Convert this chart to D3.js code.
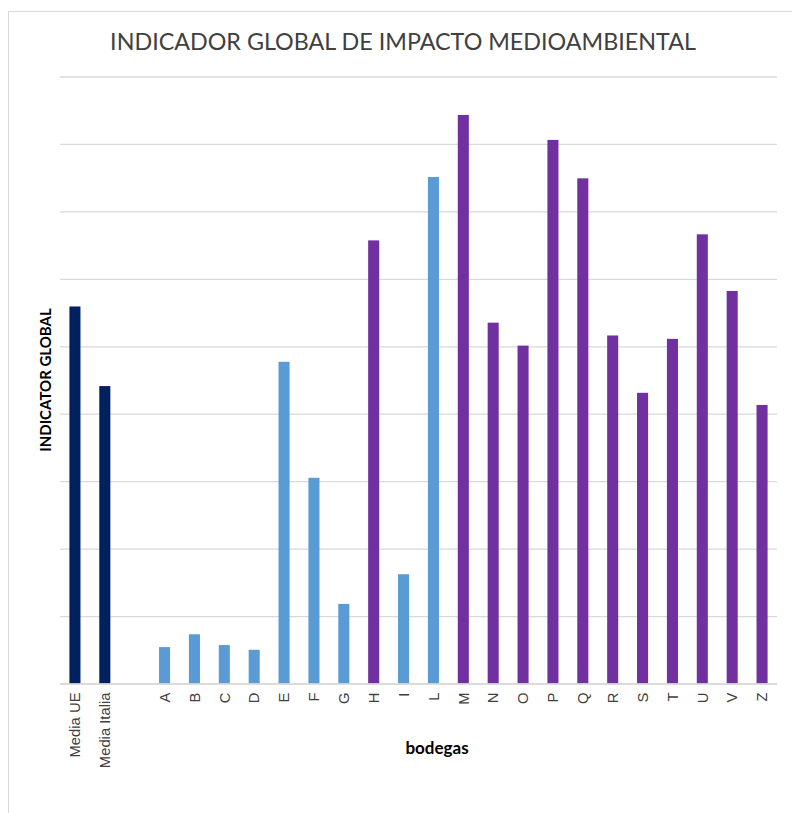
<!DOCTYPE html>
<html>
<head>
<meta charset="utf-8">
<script src="https://cdn.jsdelivr.net/npm/d3@7"></script>
<style>
  html, body { margin: 0; padding: 0; background: #fff; }
  svg { display: block; }
</style>
</head>
<body>
<div id="chart"></div>
<script>
// Categories along the x axis (one blank slot separates the averages from the wineries)
const categories = ["Media UE", "Media Italia", "", "A", "B", "C", "D", "E", "F", "G", "H", "I", "L",
                    "M", "N", "O", "P", "Q", "R", "S", "T", "U", "V", "Z"];
// Global indicator per category (blank slot has no value)
const values = [5.59, 4.41, null, 0.54, 0.73, 0.57, 0.50, 4.77, 3.05, 1.18, 6.57, 1.62, 7.51,
                8.43, 5.35, 5.01, 8.06, 7.49, 5.16, 4.31, 5.11, 6.66, 5.82, 4.13];
// Group of each bar: reference averages, wineries group 1, wineries group 2
const groups = ["media", "media", null, "g1", "g1", "g1", "g1", "g1", "g1", "g1", "g2", "g1", "g1",
                "g2", "g2", "g2", "g2", "g2", "g2", "g2", "g2", "g2", "g2", "g2"];
const yTicks = [0, 1, 2, 3, 4, 5, 6, 7, 8, 9];

const title = "INDICADOR GLOBAL DE IMPACTO MEDIOAMBIENTAL";
const yTitle = "INDICATOR GLOBAL";
const xTitle = "bodegas";

const W = 792, H = 813;
const margin = { left: 60, right: 15, top: 76.5, bottom: 129.5 };

const color = d3.scaleOrdinal()
  .domain(["media", "g1", "g2"])
  .range(["#002060", "#5B9BD5", "#7030A0"]);

const svg = d3.select("#chart").append("svg")
  .attr("width", W).attr("height", H);

// chart frame
svg.append("rect")
  .attr("x", 8.5).attr("y", 11.5)
  .attr("width", W + 10).attr("height", H + 10)
  .attr("fill", "none").attr("stroke", "#d9d9d9").attr("stroke-width", 1);

const x = d3.scaleBand()
  .domain(categories.map((c, i) => i))
  .range([margin.left, W - margin.right])
  .paddingInner(0.63).paddingOuter(0.315);

const y = d3.scaleLinear()
  .domain([0, 9])
  .range([H - margin.bottom, margin.top]);

// horizontal gridlines
const gy = svg.append("g")
  .attr("transform", `translate(${margin.left},0)`)
  .call(d3.axisLeft(y).tickValues(yTicks).tickSize(-(W - margin.right - margin.left)).tickFormat(""));
gy.select(".domain").remove();
gy.selectAll(".tick line").attr("stroke", "#d9d9d9").attr("stroke-width", 1.3);

// bars
const data = categories.map((c, i) => ({ i, c, v: values[i], g: groups[i] }))
  .filter(d => d.v != null);

svg.append("g").selectAll("rect")
  .data(data)
  .join("rect")
  .attr("x", d => x(d.i))
  .attr("width", x.bandwidth())
  .attr("y", d => y(d.v))
  .attr("height", d => y(0) - y(d.v))
  .attr("fill", d => color(d.g));

// category axis
const gx = svg.append("g")
  .attr("transform", `translate(0,${y(0)})`)
  .call(d3.axisBottom(x).tickSize(0).tickFormat(i => categories[i]));
gx.select(".domain").attr("stroke", "#d9d9d9").attr("stroke-width", 1.5);
gx.selectAll(".tick text")
  .attr("transform", "rotate(-90)")
  .attr("text-anchor", "end")
  .attr("x", -9)
  .attr("y", 0)
  .attr("dy", "0.35em")
  .attr("font-family", "'Liberation Sans', Arial, sans-serif")
  .attr("font-size", 14.8)
  .attr("fill", "#404040");

// titles
svg.append("text")
  .attr("x", 403).attr("y", 50)
  .attr("text-anchor", "middle")
  .attr("font-family", "Lato, sans-serif")
  .attr("font-size", 23.3)
  .attr("fill", "#404040")
  .text(title);

svg.append("text")
  .attr("transform", "translate(51,380) rotate(-90)")
  .attr("text-anchor", "middle")
  .attr("font-family", "Lato, sans-serif")
  .attr("font-weight", "bold")
  .attr("font-size", 15)
  .attr("fill", "#000")
  .text(yTitle);

svg.append("text")
  .attr("x", 437).attr("y", 754)
  .attr("text-anchor", "middle")
  .attr("font-family", "Lato, sans-serif")
  .attr("font-weight", "bold")
  .attr("font-size", 17)
  .attr("fill", "#000")
  .text(xTitle);
</script>
</body>
</html>
